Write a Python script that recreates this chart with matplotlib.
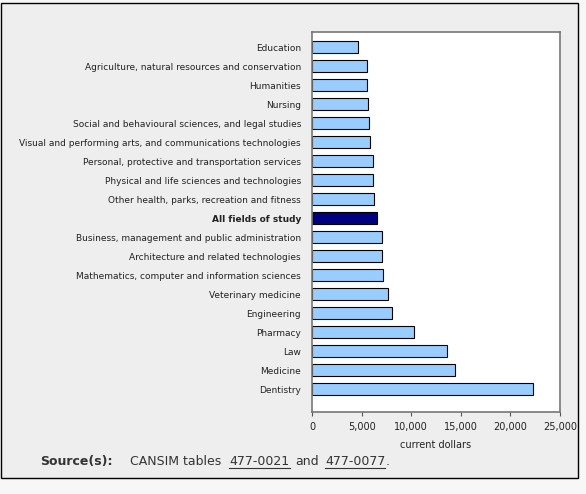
import matplotlib
matplotlib.use("Agg")
import matplotlib.pyplot as plt
from matplotlib.patches import Rectangle

categories = ["Education", "Agriculture, natural resources and conservation", "Humanities", "Nursing",
              "Social and behavioural sciences, and legal studies",
              "Visual and performing arts, and communications technologies",
              "Personal, protective and transportation services",
              "Physical and life sciences and technologies",
              "Other health, parks, recreation and fitness", "All fields of study",
              "Business, management and public administration",
              "Architecture and related technologies",
              "Mathematics, computer and information sciences", "Veterinary medicine",
              "Engineering", "Pharmacy", "Law", "Medicine", "Dentistry"]
values = [4640, 5540, 5540, 5650, 5750, 5850, 6150, 6150, 6250, 6550,
          7060, 7060, 7160, 7660, 8070, 10280, 13600, 14400, 22280]
xticks = [0, 5000, 10000, 15000, 20000, 25000]

fig = plt.figure(figsize=(5.86, 4.94), dpi=100)
fig.patch.set_facecolor("#f7f7f7")
fig.patches.append(Rectangle((1/586, 16/494), 577/586, 475/494, transform=fig.transFigure,
                             facecolor="#eeeeee", edgecolor="black", linewidth=1, zorder=-5))
ax = fig.add_axes([312/586, 82/494, 248/586, 380/494])
ax.set_zorder(2)
ax.set_facecolor("white")
ys = list(range(len(categories)))
colors = ["#000080" if c == "All fields of study" else "#99ccff" for c in categories]
ax.barh(ys, values, height=0.63, color=colors, edgecolor="black", linewidth=0.8)
ax.set_ylim(len(categories) - 1 + 1.21, -0.79)
ax.set_xlim(0, 25000)
ax.set_xticks(xticks)
ax.set_xticklabels([f"{v:,}" for v in xticks], fontsize=7, color="#222222")
ax.set_yticks(ys)
ax.set_yticklabels(categories, fontsize=6.5, color="#222222")
for lab in ax.get_yticklabels():
    if lab.get_text() == "All fields of study":
        lab.set_fontweight("bold")
ax.tick_params(axis="y", length=0, pad=8)
ax.tick_params(axis="x", length=3, color="#555555", pad=4)
for s in ax.spines.values():
    s.set_color("#777777")
    s.set_linewidth(1.2)
ax.set_xlabel("current dollars", fontsize=7, color="#222222", labelpad=6)
y0 = 1 - 461/494
fig.text(40/586, y0, "Source(s):", fontsize=9, fontweight="bold", color="#333333", va="center")
fig.text(130/586, y0, "CANSIM tables", fontsize=9, color="#333333", va="center")
fig.text(229/586, y0, "477-0021", fontsize=9, color="#333333", va="center")
fig.text(295/586, y0, "and", fontsize=9, color="#333333", va="center")
fig.text(325/586, y0, "477-0077", fontsize=9, color="#333333", va="center")
fig.text(386/586, y0, ".", fontsize=9, color="#333333", va="center")
fig.lines.append(plt.Line2D([229/586, 290/586], [1 - 468/494] * 2, transform=fig.transFigure, color="#333333", lw=0.8))
fig.lines.append(plt.Line2D([325/586, 385/586], [1 - 468/494] * 2, transform=fig.transFigure, color="#333333", lw=0.8))
fig.savefig("out.png", dpi=100, facecolor=fig.get_facecolor())
